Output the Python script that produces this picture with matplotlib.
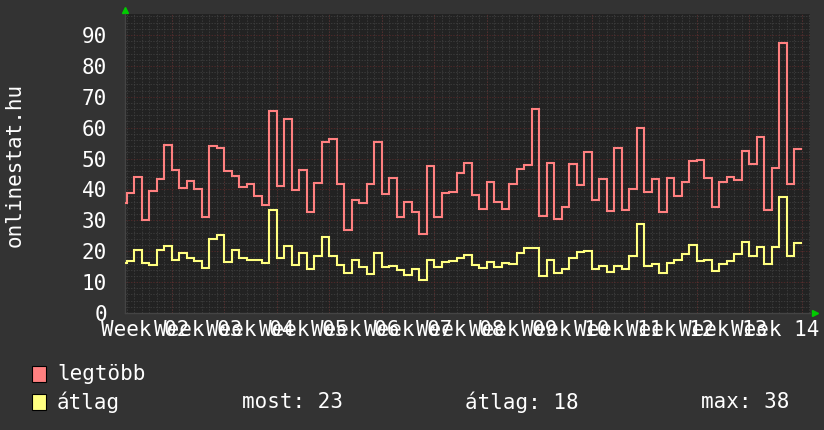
import matplotlib.pyplot as plt
import numpy as np
from matplotlib.patches import Rectangle
from matplotlib.ticker import MultipleLocator

# daily values, first one is the day before the visible window
legtobb = [35.5, 38.8, 44.1, 30.2, 39.6, 43.3, 54.3, 46.3, 40.4, 42.6, 40.2,
           31.2, 54.1, 53.4, 46.0, 44.3, 40.9, 41.7, 37.8, 34.9, 65.3,
           41.2, 62.7, 39.9, 46.3, 32.7, 42.0, 55.4, 56.2, 41.7, 27.0,
           36.5, 35.7, 41.7, 55.2, 38.5, 43.8, 31.1, 35.9, 32.7, 25.7,
           47.6, 31.1, 38.9, 39.3, 45.4, 48.5, 38.2, 33.6, 42.4, 35.9,
           33.6, 41.8, 46.6, 47.9, 66.2, 31.5, 48.5, 30.5, 34.3, 48.2,
           41.5, 52.1, 36.7, 43.4, 32.9, 53.4, 33.4, 40.1, 59.9, 39.3,
           43.4, 32.8, 43.6, 38.0, 42.3, 49.3, 49.6, 43.8, 34.4, 42.3,
           44.0, 43.0, 52.5, 48.1, 57.0, 33.4, 47.0, 87.4, 41.8, 53.1]
atlag = [16.1, 16.8, 20.5, 16.1, 15.7, 20.5, 21.8, 17.2, 19.5, 17.7, 16.7,
         14.7, 23.8, 25.1, 16.5, 20.5, 17.7, 17.2, 17.0, 16.1, 33.4,
         17.7, 21.7, 15.6, 19.5, 14.1, 18.6, 24.7, 18.4, 15.6, 13.0,
         17.1, 14.8, 12.6, 19.4, 15.0, 15.3, 14.0, 12.3, 14.2, 10.6,
         17.2, 14.8, 16.4, 16.8, 17.7, 18.8, 15.5, 14.5, 16.6, 15.0,
         16.2, 16.0, 19.4, 21.0, 21.0, 12.1, 17.2, 13.0, 14.2, 17.9,
         19.7, 20.2, 14.1, 15.1, 13.3, 15.3, 14.2, 18.3, 28.9, 15.1,
         15.9, 13.0, 16.2, 17.2, 19.2, 22.0, 16.9, 17.2, 13.7, 15.9,
         16.9, 19.2, 22.9, 18.3, 21.5, 15.9, 21.5, 37.6, 18.5, 22.6]
week_labels = ["Week 02", "Week 03", "Week 04", "Week 05", "Week 06",
               "Week 07", "Week 08", "Week 09", "Week 10", "Week 11",
               "Week 12", "Week 13", "Week 14"]
stats = ["most: 23", "átlag: 18", "max: 38"]

RED = "#ff8080"
YEL = "#ffff80"
MONO = "DejaVu Sans Mono"
MINOR = "#444444"
MAJOR = "#5e2a2a"
DOTS = (0, (2, 2))

days = np.arange(-1, len(legtobb))  # edges, one more than values
week_edges = np.arange(6, 91, 7)
label_pos = week_edges - 3.5

fig = plt.figure(figsize=(8.24, 4.30), dpi=100, facecolor="#333333")
ax = fig.add_axes([125 / 824, 1 - 313 / 430, 685 / 824, 299 / 430])
ax.set_facecolor("#222222")

ax.stairs(legtobb, days, baseline=None, color=RED, lw=1.5, zorder=3)
ax.stairs(atlag, days, baseline=None, color=YEL, lw=1.5, zorder=3)

ax.set_xlim(-0.23, 91.1)
ax.set_ylim(0, 96.8)

# grid
ax.set_axisbelow(True)
ax.set_yticks(range(0, 100, 10))
ax.yaxis.set_minor_locator(MultipleLocator(2))
ax.set_xticks(label_pos, week_labels)
ax.set_xticks(np.arange(0, 92), minor=True)
ax.grid(which="minor", color=MINOR, lw=0.5, ls=DOTS)
ax.grid(which="major", axis="y", color=MAJOR, lw=0.5, ls=DOTS)
ax.vlines(week_edges, 0, 96.8, colors=MAJOR, lw=0.5, linestyles=DOTS,
          zorder=1.5)

ax.tick_params(which="both", length=0, colors="white", labelsize=15)
ax.tick_params(axis="y", pad=13)
ax.tick_params(axis="x", pad=5)
for lab in ax.get_xticklabels() + ax.get_yticklabels():
    lab.set_fontfamily(MONO)

for s in ["top", "right"]:
    ax.spines[s].set_visible(False)
for s in ["left", "bottom"]:
    ax.spines[s].set_color("#444444")
    ax.spines[s].set_linewidth(1)

# little green arrows at the axis ends
ax.plot([0], [1.012], marker="^", color="#00cc00", ms=5,
        transform=ax.transAxes, clip_on=False)
ax.plot([1.008], [0], marker=">", color="#00cc00", ms=5,
        transform=ax.transAxes, clip_on=False)

fig.text(15 / 824, 1 - 165 / 430, "onlinestat.hu", rotation=90, color="white",
         fontsize=15, family=MONO, ha="center", va="center")

# legend
fig.patches.append(Rectangle((32 / 824, 1 - 382 / 430), 14 / 824, 16 / 430,
                             transform=fig.transFigure, fc=RED, ec="black",
                             lw=0.8))
fig.patches.append(Rectangle((32 / 824, 1 - 410 / 430), 14 / 824, 16 / 430,
                             transform=fig.transFigure, fc=YEL, ec="black",
                             lw=0.8))
fig.text(57 / 824, 1 - 374 / 430, "legtöbb", color="white", fontsize=15,
         family=MONO, va="center")
fig.text(57 / 824, 1 - 402 / 430, "átlag", color="white", fontsize=15,
         family=MONO, va="center")
for xp, t in zip([242, 465, 701], stats):
    fig.text(xp / 824, 1 - 402 / 430, t, color="white", fontsize=15,
             family=MONO, va="center")

fig.savefig("out.png", dpi=100, facecolor=fig.get_facecolor())
